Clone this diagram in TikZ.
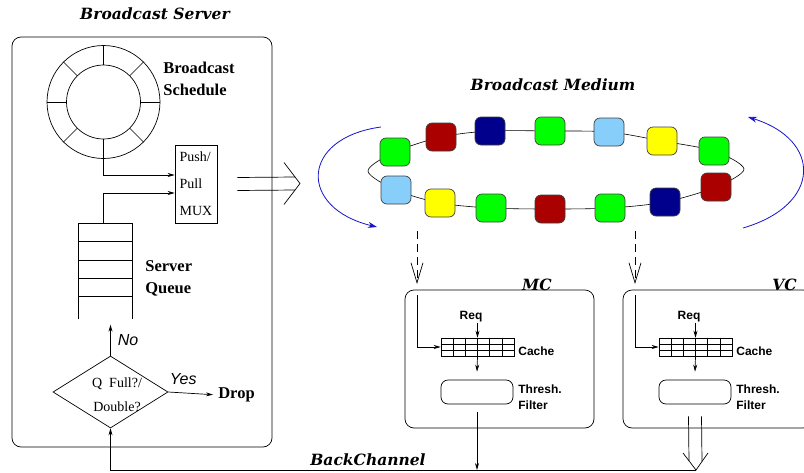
\documentclass[tikz,border=0pt]{standalone}
\usepackage{fontspec}
\setmainfont{Liberation Serif}
\setsansfont{Liberation Sans}
\newfontfamily\headfont{DejaVu Serif}
\usetikzlibrary{arrows.meta,positioning,shapes.geometric,backgrounds,calc}
\definecolor{pgreen}{RGB}{0,255,0}
\definecolor{pred}{RGB}{170,0,0}
\definecolor{pnavy}{RGB}{0,0,140}
\definecolor{psky}{RGB}{135,206,250}
\definecolor{pyellow}{RGB}{255,255,0}
\definecolor{spinblue}{RGB}{20,20,200}

\begin{document}
\begin{tikzpicture}[x=1pt,y=-1pt,line width=0.7pt,>={Stealth[length=7pt,width=4pt]}]
\tikzstyle{pane}=[rectangle, draw, rounded corners=9pt]
\tikzstyle{hdr}=[font=\headfont\bfseries\itshape\fontsize{15.5}{18}\selectfont, inner sep=0pt]
\tikzstyle{tlbl}=[font=\bfseries\fontsize{16.5}{22}\selectfont, align=left, inner sep=0pt]
\tikzstyle{rlbl}=[font=\fontsize{14}{24}\selectfont, align=left, inner sep=0pt]
\tikzstyle{slbl}=[font=\sffamily\bfseries\fontsize{12}{16}\selectfont, align=left, inner sep=0pt, anchor=west]
\tikzstyle{ilbl}=[font=\sffamily\itshape\fontsize{16}{18}\selectfont, inner sep=0pt]
\tikzstyle{pkt}=[rectangle, rounded corners=6pt, minimum width=30pt, minimum height=28pt, draw=black!75]
\tikzstyle{cachebox}=[rectangle, draw, minimum width=73pt, minimum height=18pt, inner sep=0pt]
\tikzstyle{thr}=[rectangle, draw, rounded corners=7pt, minimum width=72pt, minimum height=24pt]
\tikzstyle{arr}=[->]
\tikzstyle{spin}=[draw=spinblue, line width=0.8pt, -{Stealth[length=9pt,width=6pt]}]
\tikzstyle{feed}=[dash pattern=on 8pt off 5pt, -{Straight Barb[length=20pt,width=12pt]}]
\useasboundingbox (0,0) rectangle (804,472);

\node (srvtitle) [hdr] at (155,14) {Broadcast Server};
\node (srv) [pane, minimum width=260pt, minimum height=410pt] at (142,242) {};
\node (ring) [circle, draw, minimum size=113pt, inner sep=0pt] at (103.5,102) {};
\node (hub) [circle, draw, minimum size=74pt, inner sep=0pt] at (103.5,102) {};
\foreach \a in {0,45,...,315} \draw (hub.\a) -- (ring.\a);
\node (schedlbl) [tlbl, anchor=west] at (163,79) {Broadcast\\Schedule};
\node (mux) [rectangle, draw, minimum width=42pt, minimum height=78pt, rlbl, inner sep=4pt, font=\fontsize{14}{27}\selectfont] at (196,184) {Push/\\Pull\\MUX};
\draw[arr] (ring.south) |- ([yshift=9pt]mux.west);

\draw (78,319) |- (132,223) -- (132,319);
\foreach \y in {241,260,278,296} \draw (78,\y) -- (132,\y);
\coordinate (queue) at (103,223);
\draw[arr] (queue) |- ([yshift=-9pt]mux.west);
\node (qlbl) [tlbl, anchor=west] at (145,278) {Server\\Queue};

\node (chk) [diamond, draw, minimum width=115pt, minimum height=72pt, inner sep=0pt] at (110.5,392) {};
\node (chktxt) [rlbl, align=center] at (117,395) {Q\ \ Full?/\\Double?};
\draw[arr] (chk.north) -- node[ilbl, right=7pt] {No} +(0,-31);
\node (drop) [tlbl] at (236.5,395) {Drop};
\draw[arr, shorten >=5pt] (chk.east) -- node[ilbl, pos=0.3, above=8pt] {Yes} (drop.west);

\coordinate (mtip) at (300,183.5);
\draw ($(mux.east)+(20,-6.5)$) -- ($(mtip)+(-5,-6.5)$);
\draw ($(mux.east)+(20,6.5)$) -- ($(mtip)+(-5,6.5)$);
\draw ($(mtip)+(-16,-21)$) -- (mtip) -- ($(mtip)+(-16,21)$);

\node (medtitle) [hdr] at (553,85) {Broadcast Medium};
\node (p1) [pkt, fill=pgreen] at (395,152) {};
\node (p2) [pkt, fill=pred] at (441,137) {};
\node (p3) [pkt, fill=pnavy] at (490,131) {};
\node (p4) [pkt, fill=pgreen] at (550,131) {};
\node (p5) [pkt, fill=psky] at (609,132) {};
\node (p6) [pkt, fill=pyellow] at (662,141) {};
\node (p7) [pkt, fill=pgreen] at (714,151) {};
\node (p8) [pkt, fill=psky] at (396,190) {};
\node (p9) [pkt, fill=pyellow] at (440,203) {};
\node (p10) [pkt, fill=pgreen] at (491,208) {};
\node (p11) [pkt, fill=pred] at (550,209) {};
\node (p12) [pkt, fill=pgreen] at (610,208) {};
\node (p13) [pkt, fill=pnavy] at (665,202) {};
\node (p14) [pkt, fill=pred] at (716,187) {};
\coordinate (rl) at (368,171);
\coordinate (rr) at (744,169);
\begin{scope}[on background layer]
\draw[line width=0.6pt] plot[smooth cycle] coordinates {(p1.center) (p2.center) (p3.center) (p4.center) (p5.center) (p6.center) (p7.center) (rr) (p14.center) (p13.center) (p12.center) (p11.center) (p10.center) (p9.center) (p8.center) (rl)};
\end{scope}
\coordinate (la) at (381,127);
\coordinate (lb) at (377,227);
\draw[spin] (la) .. controls (300,138) and (298,208) .. (lb);
\coordinate (ra) at (743,228);
\coordinate (rb) at (748,117);
\draw[spin] (ra) .. controls (822,205) and (822,140) .. (rb);

\coordinate (d1a) at (417,231);
\coordinate (d1b) at (417,284);
\coordinate (d2a) at (635,231);
\coordinate (d2b) at (635,284);
\draw[feed] (d1a) -- (d1b);
\draw[feed] (d2a) -- (d2b);

\node (mc) [pane, minimum width=189pt, minimum height=138pt] at (499.5,359) {};
\node (mclbl) [hdr, anchor=base east] at (552,290) {MC};
\node (vc) [pane, minimum width=189pt, minimum height=138pt] at (717.5,359) {};
\node (vclbl) [hdr, anchor=base east] at (797,290) {VC};
\foreach \c/\dx in {mc/0,vc/218}{
\begin{scope}[xshift=\dx pt]
\node (\c cache) [cachebox] at (477.5,347) {};
\foreach \i in {1,...,5} \draw ($(\c cache.north west)!\i/6!(\c cache.north east)$) -- ($(\c cache.south west)!\i/6!(\c cache.south east)$);
\foreach \i in {1,2} \draw ($(\c cache.north west)!\i/3!(\c cache.south west)$) -- ($(\c cache.north east)!\i/3!(\c cache.south east)$);
\node (\c req) [slbl, anchor=center] at (471,317) {Req};
\draw[arr] (\c req.south -| \c cache.north) -- (\c cache.north);
\node (\c thr) [thr] at (477,392) {};
\draw[arr] (\c cache.south) -- ([yshift=8pt]\c thr.north);
\node (\c cl) [slbl] at (518,351) {Cache};
\node (\c tl) [slbl] at (518,397) {Thresh.\\Filter};
\coordinate (\c in) at (417,295);
\draw[arr] (\c in) |- (\c cache.west);
\end{scope}
}

\coordinate (vtip) at (696,470);
\draw[arr] ([yshift=-8pt]mcthr.south) -- (mcthr.south |- vtip);
\draw ([xshift=-6.5pt,yshift=-12pt]vcthr.south) -- ($(vtip)+(-7,-9)$);
\draw ([xshift=6.5pt,yshift=-12pt]vcthr.south) -- ($(vtip)+(6,-9)$);
\draw ($(vtip)+(-13,-17)$) -- (vtip) -- ($(vtip)+(12,-17)$);
\draw[arr] (vtip) -| (chk.south);
\node (bclbl) [hdr, anchor=base] at (368,465) {BackChannel};
\end{tikzpicture}
\end{document}
